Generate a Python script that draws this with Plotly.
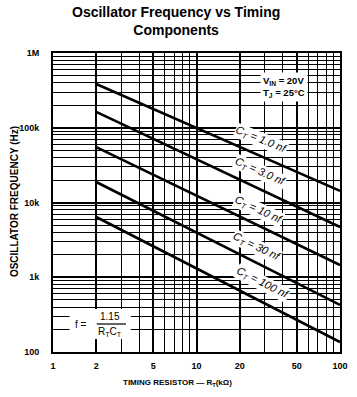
import plotly.graph_objects as go

# ---- data ----
resistance_k = [2, 100]  # timing resistor RT (kOhm), start/end of each curve
cap_labels = ["1.0 nf", "3.0 nf", "10 nf", "30 nf", "100 nf"]
freq_1nf = [385000, 14300]
freq_3nf = [163000, 4700]
freq_10nf = [55000, 1460]
freq_30nf = [18800, 426]
freq_100nf = [6400, 136]
series = [freq_1nf, freq_3nf, freq_10nf, freq_30nf, freq_100nf]

x_tickvals = [1, 2, 5, 10, 20, 50, 100]
x_ticktext = ["1", "2", "5", "10", "20", "50", "100"]
x_minor = [3, 4, 6, 7, 8, 9, 30, 40, 60, 70, 80, 90]
y_tickvals = [100, 1000, 10000, 100000, 1000000]
y_ticktext = ["100", "1k", "10k", "100k", "1M"]
y_minor = [m * d for d in (100, 1000, 10000, 100000) for m in range(2, 10)]

# ---- layout helpers (pixel -> paper) ----
W, H = 357, 397
L, R, T, B = 53, 9, 53, 45
PW, PH = W - L - R, H - T - B


def px(x):
    return (x - L) / PW


def py(y):
    return 1 - (y - T) / PH


FONT = "Liberation Sans"

fig = go.Figure()
for vals in series:
    fig.add_trace(go.Scatter(x=resistance_k, y=vals, mode="lines",
                             line=dict(color="black", width=2.6),
                             showlegend=False, hoverinfo="skip"))


def note(x, y, text, size, **kw):
    d = dict(x=px(x), y=py(y), xref="paper", yref="paper", text=text,
             showarrow=False, xanchor="center", yanchor="middle",
             font=dict(family=FONT, size=size, color="black"))
    d.update(kw)
    return d


annotations = []
# curve labels (centre pixel positions, angle)
label_pos = [(267, 140, 22), (266, 172, 24), (264, 210, 25), (262, 247, 26), (268, 283, 27)]
for lab, (lx, ly, ang) in zip(cap_labels, label_pos):
    annotations.append(note(lx, ly, "<i>C<sub>T</sub> = " + lab + "</i>", 11,
                            textangle=ang, bgcolor="white", borderpad=0))

annotations.append(note(290, 87, "<b>V<sub>IN</sub> = 20V<br>T<sub>J</sub> = 25°C</b>", 9.5,
                        bgcolor="white", borderpad=2, align="left"))

# formula f = 1.15 / (RT CT)
annotations.append(note(82, 324, "f =", 10))
annotations.append(note(112, 316, "1.15", 10))
annotations.append(note(112, 332, "R<sub>T</sub>C<sub>T</sub>", 10))

# titles
annotations.append(note(179, 21, "<b>Oscillator Frequency vs Timing<br>Components</b>", 14))
annotations.append(note(181, 383, "<b>TIMING RESISTOR — R<sub>T</sub>(kΩ)</b>", 8))
annotations.append(note(13, 202, "<b>OSCILLATOR FREQUENCY (Hz)</b>", 10, textangle=-90))

fig.update_layout(
    width=W, height=H, autosize=False,
    margin=dict(l=L, r=R, t=T, b=B, pad=0),
    paper_bgcolor="white", plot_bgcolor="white",
    font=dict(family=FONT, color="black"),
    annotations=annotations,
    shapes=[
        dict(type="rect", xref="paper", yref="paper", layer="above",
             x0=px(70), x1=px(133), y0=py(339), y1=py(309),
             fillcolor="white", line=dict(width=0)),
        dict(type="line", xref="paper", yref="paper", layer="above",
             x0=px(98), x1=px(128), y0=py(324), y1=py(324),
             line=dict(color="black", width=1.2)),
    ],
)
fig.update_xaxes(type="log", range=[0, 2], tickmode="array",
                 tickvals=x_tickvals, ticktext=x_ticktext,
                 showgrid=True, gridcolor="black", gridwidth=1.5,
                 minor=dict(tickmode="array", tickvals=x_minor, showgrid=True,
                            gridcolor="black", gridwidth=1.3, ticks=""),
                 showline=True, linecolor="black", linewidth=2, mirror=True,
                 ticks="", ticklabelstandoff=4,
                 tickfont=dict(family=FONT, size=9, color="black", weight="bold"),
                 zeroline=False)
fig.update_yaxes(type="log", range=[2, 6], tickmode="array",
                 tickvals=y_tickvals, ticktext=y_ticktext,
                 showgrid=True, gridcolor="black", gridwidth=1.5,
                 minor=dict(tickmode="array", tickvals=y_minor, showgrid=True,
                            gridcolor="black", gridwidth=1.2, ticks=""),
                 showline=True, linecolor="black", linewidth=2, mirror=True,
                 ticks="", ticklabelstandoff=10,
                 tickfont=dict(family=FONT, size=9, color="black", weight="bold"),
                 zeroline=False)

fig.write_html("out.html")
